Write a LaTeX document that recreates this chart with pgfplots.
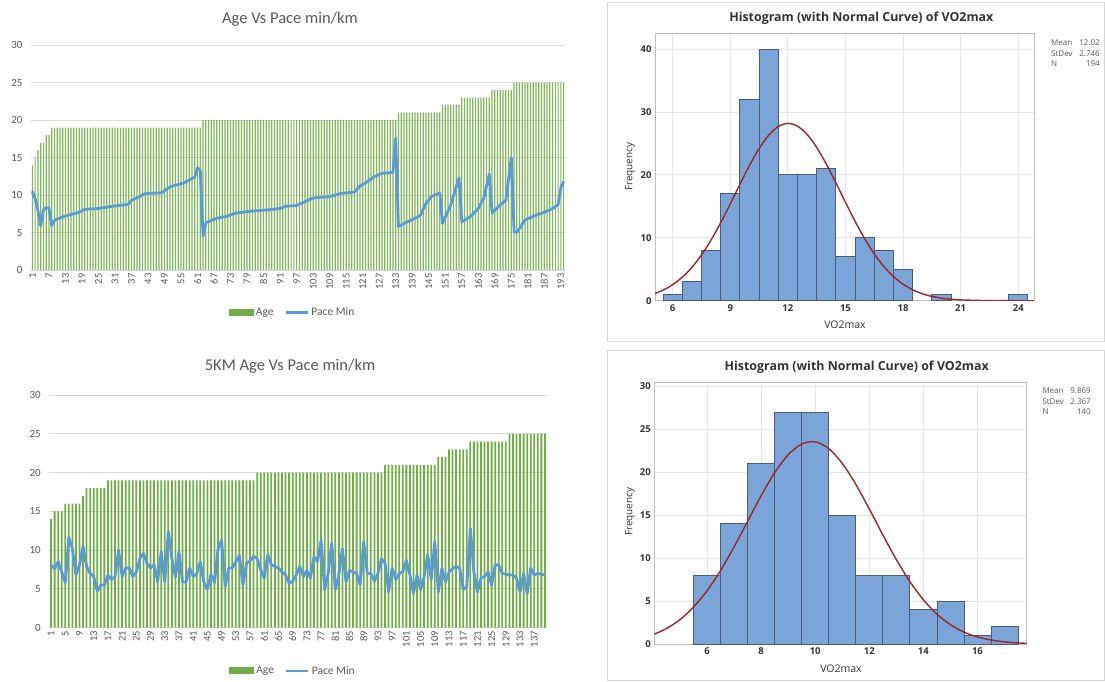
\documentclass[border=0pt]{standalone}
\usepackage{fontspec}
\setmainfont{Carlito}
\newfontfamily\mtfont{Open Sans}
\usepackage{pgfplots}
\pgfplotsset{compat=1.18}
\definecolor{exgreen}{HTML}{70AD47}
\definecolor{exblue}{HTML}{5B9BD5}
\definecolor{exgrid}{HTML}{D9D9D9}
\definecolor{extext}{HTML}{595959}
\definecolor{mtbar}{HTML}{7BA4D8}
\definecolor{mtedge}{HTML}{4C5D75}
\definecolor{mtcurve}{HTML}{9C2628}
\definecolor{mtgrid}{HTML}{E6E6E6}
\definecolor{mtframe}{HTML}{BFBFBF}
\definecolor{mttext}{HTML}{333333}
\definecolor{mtpanel}{HTML}{D6D6D6}
\pgfplotsset{
 excel/.style={
  scale only axis, xmin=0.5, ymin=0, ymax=30, ytick={0,5,...,30},
  axis line style={draw=none}, tick style={draw=none},
  ymajorgrids, grid style={exgrid, line width=1pt},
  /pgf/number format/assume math mode=true,
  yticklabel style={font=\fontsize{11}{12}\selectfont, text=extext, xshift=-5pt},
  xticklabel style={rotate=90, anchor=east, font=\fontsize{10.5}{11}\selectfont, text=extext},
  legend style={draw=none, fill=none, legend columns=2, font=\fontsize{11.5}{12}\selectfont, text=extext,
    /tikz/every even column/.append style={column sep=9pt}},
 },
 mini/.style={
  scale only axis, axis line style={mtframe, line width=1pt},
  grid=major, grid style={mtgrid, line width=0.8pt}, tick style={draw=none},
  /pgf/number format/assume math mode=true,
  ticklabel style={font=\mtfont\bfseries\fontsize{9.5}{10}\selectfont, text=mttext},
 },
}
\begin{document}
\begin{tikzpicture}
\path[use as bounding box] (0,0) rectangle (1105pt,-681pt);
% ---------- Top-left Excel chart ----------
\begin{axis}[excel, at={(31pt,-270pt)}, anchor=south west, width=534pt, height=225pt,
  xmax=194.5, xtick={1,7,...,193},
  legend style={at={(0.49,-0.19)}, anchor=center}]
\addplot[ybar, bar width=0.45, bar shift=0pt, fill=exgreen!90, draw=none,
  legend image code/.code={\fill[exgreen] (0pt,-3.5pt) rectangle (25pt,3.5pt);}]
coordinates {(1,14)(2,15)(3,16)(4,17)(5,17)(6,18)(7,18)
(8,19)(9,19)(10,19)(11,19)(12,19)(13,19)(14,19)(15,19)(16,19)(17,19)
(18,19)(19,19)(20,19)(21,19)(22,19)(23,19)(24,19)(25,19)(26,19)(27,19)
(28,19)(29,19)(30,19)(31,19)(32,19)(33,19)(34,19)(35,19)(36,19)(37,19)
(38,19)(39,19)(40,19)(41,19)(42,19)(43,19)(44,19)(45,19)(46,19)(47,19)
(48,19)(49,19)(50,19)(51,19)(52,19)(53,19)(54,19)(55,19)(56,19)(57,19)
(58,19)(59,19)(60,19)(61,19)(62,19)
(63,20)(64,20)(65,20)(66,20)(67,20)(68,20)(69,20)(70,20)(71,20)(72,20)
(73,20)(74,20)(75,20)(76,20)(77,20)(78,20)(79,20)(80,20)(81,20)(82,20)
(83,20)(84,20)(85,20)(86,20)(87,20)(88,20)(89,20)(90,20)(91,20)(92,20)
(93,20)(94,20)(95,20)(96,20)(97,20)(98,20)(99,20)(100,20)(101,20)(102,20)
(103,20)(104,20)(105,20)(106,20)(107,20)(108,20)(109,20)(110,20)(111,20)(112,20)
(113,20)(114,20)(115,20)(116,20)(117,20)(118,20)(119,20)(120,20)(121,20)(122,20)
(123,20)(124,20)(125,20)(126,20)(127,20)(128,20)(129,20)(130,20)(131,20)(132,20)(133,20)
(134,21)(135,21)(136,21)(137,21)(138,21)(139,21)(140,21)(141,21)(142,21)(143,21)
(144,21)(145,21)(146,21)(147,21)(148,21)(149,21)
(150,22)(151,22)(152,22)(153,22)(154,22)(155,22)(156,22)
(157,23)(158,23)(159,23)(160,23)(161,23)(162,23)(163,23)(164,23)(165,23)(166,23)(167,23)
(168,24)(169,24)(170,24)(171,24)(172,24)(173,24)(174,24)(175,24)
(176,25)(177,25)(178,25)(179,25)(180,25)(181,25)(182,25)(183,25)(184,25)(185,25)
(186,25)(187,25)(188,25)(189,25)(190,25)(191,25)(192,25)(193,25)(194,25)};
\addlegendentry{Age}
\addplot[exblue, line width=2.8pt, line join=round, no marks,
  legend image code/.code={\draw[exblue, line width=2.8pt] (0pt,0pt) -- (22pt,0pt);}]
coordinates {(1,10.5)(2,9.5)(3,8.0)(4,5.9)(5,8.0)(6,8.3)(7,8.3)(8,5.9)(9,6.6)(10,6.8)
(13,7.2)(18,7.7)(20,8.1)(25,8.2)(30,8.5)(35,8.7)(36,8.8)(37,9.3)(40,9.8)(42,10.2)
(48,10.3)(51,11.1)(56,11.6)(60,12.4)(61,13.6)(62,13.3)(63,4.5)(64,6.3)(66,6.6)(68,6.9)
(72,7.2)(74,7.5)(79,7.8)(86,8.0)(91,8.2)(93,8.5)(97,8.6)(100,9.1)(103,9.6)(109,9.8)
(113,10.2)(118,10.4)(120,11.2)(122,11.6)(125,12.4)(128,12.9)(132,13.0)(133,17.6)
(134,5.8)(136,6.2)(140,6.9)(142,7.3)(144,8.9)(146,9.8)(149,10.3)(150,6.2)(153,8.7)
(156,12.3)(157,6.4)(160,7.1)(163,8.2)(165,9.6)(167,12.8)(168,7.6)(171,8.7)(173,9.3)
(175,15.0)(176,5.1)(177,5.0)(180,6.7)(184,7.3)(187,7.7)(190,8.2)(192,8.7)(193,11.0)(194,11.8)};
\addlegendentry{Pace Min}
\end{axis}
\node[font=\fontsize{16.5}{18}\selectfont, text=extext] at (290pt,-19pt) {Age Vs Pace min/km};
% ---------- Bottom-left Excel chart ----------
\begin{axis}[excel, at={(49.3pt,-627.7pt)}, anchor=south west, width=497.4pt, height=232.7pt,
  xmax=140.5, xtick={1,5,...,137},
  legend style={at={(0.49,-0.186)}, anchor=center}]
\addplot[ybar, bar width=0.5, bar shift=0pt, fill=exgreen, draw=none,
  legend image code/.code={\fill[exgreen] (0pt,-3.5pt) rectangle (25pt,3.5pt);}]
coordinates {(1,14)(2,15)(3,15)(4,15)(5,16)(6,16)(7,16)(8,16)(9,16)(10,17)
(11,18)(12,18)(13,18)(14,18)(15,18)(16,18)
(17,19)(18,19)(19,19)(20,19)(21,19)(22,19)(23,19)(24,19)(25,19)(26,19)
(27,19)(28,19)(29,19)(30,19)(31,19)(32,19)(33,19)(34,19)(35,19)(36,19)
(37,19)(38,19)(39,19)(40,19)(41,19)(42,19)(43,19)(44,19)(45,19)(46,19)
(47,19)(48,19)(49,19)(50,19)(51,19)(52,19)(53,19)(54,19)(55,19)(56,19)(57,19)(58,19)
(59,20)(60,20)(61,20)(62,20)(63,20)(64,20)(65,20)(66,20)(67,20)(68,20)
(69,20)(70,20)(71,20)(72,20)(73,20)(74,20)(75,20)(76,20)(77,20)(78,20)
(79,20)(80,20)(81,20)(82,20)(83,20)(84,20)(85,20)(86,20)(87,20)(88,20)
(89,20)(90,20)(91,20)(92,20)(93,20)(94,20)
(95,21)(96,21)(97,21)(98,21)(99,21)(100,21)(101,21)(102,21)(103,21)(104,21)
(105,21)(106,21)(107,21)(108,21)(109,21)
(110,22)(111,22)(112,22)
(113,23)(114,23)(115,23)(116,23)(117,23)(118,23)
(119,24)(120,24)(121,24)(122,24)(123,24)(124,24)(125,24)(126,24)(127,24)(128,24)(129,24)
(130,25)(131,25)(132,25)(133,25)(134,25)(135,25)(136,25)(137,25)(138,25)(139,25)(140,25)};
\addlegendentry{Age}
\addplot[exblue, line width=2.8pt, line join=round, no marks,
  legend image code/.code={\draw[exblue, line width=2.8pt] (0pt,0pt) -- (22pt,0pt);}]
coordinates {(1,8.1)(2,7.6)(3,8.5)(4,7.2)(5,5.8)(6,11.7)(7,10.2)(8,6.8)(9,8.1)(10,10.5)
(11,7.9)(12,7.0)(13,6.6)(14,4.7)(15,5.5)(16,5.5)(17,6.8)(18,6.2)(19,6.6)(20,10.0)
(21,6.6)(22,7.7)(23,7.7)(24,6.6)(25,7.2)(26,8.9)(27,9.6)(28,8.3)(29,7.7)(30,8.1)
(31,5.9)(32,9.8)(33,5.9)(34,12.4)(35,8.9)(36,6.5)(37,9.8)(38,5.9)(39,5.9)(40,7.7)
(41,6.6)(42,7.0)(43,8.5)(44,5.9)(45,4.9)(46,6.9)(47,5.8)(48,10.2)(49,11.3)(50,5.3)
(51,7.7)(52,7.7)(53,8.5)(54,9.3)(55,5.5)(56,8.3)(57,8.6)(58,9.2)(59,8.9)(60,7.5)
(61,6.4)(62,9.4)(63,8.1)(64,7.9)(65,7.7)(66,7.2)(67,6.8)(68,5.7)(69,6.0)(70,6.8)
(71,7.9)(72,6.6)(73,7.4)(74,6.4)(75,9.2)(76,8.5)(77,11.3)(78,4.9)(79,7.0)(80,10.9)
(81,4.9)(82,6.8)(83,10.2)(84,5.9)(85,7.4)(86,7.2)(87,7.0)(88,5.5)(89,11.1)(90,7.0)
(91,7.0)(92,6.0)(93,7.0)(94,8.9)(95,8.3)(96,4.6)(97,7.7)(98,6.2)(99,7.0)(100,7.2)
(101,8.7)(102,6.8)(103,4.4)(104,6.8)(105,4.9)(106,6.6)(107,9.4)(108,6.2)(109,11.1)(110,4.6)
(111,7.7)(112,5.9)(113,7.2)(114,7.6)(115,7.9)(116,7.7)(117,4.9)(118,5.3)(119,12.8)(120,7.2)
(121,4.6)(122,6.4)(123,6.6)(124,7.2)(125,5.5)(126,8.1)(127,8.1)(128,7.0)(129,6.9)(130,6.8)
(131,6.8)(132,6.4)(133,4.6)(134,7.0)(135,4.4)(136,7.7)(137,6.8)(138,7.0)(139,6.9)(140,6.8)};
\addlegendentry{Pace Min}
\end{axis}
\node[font=\fontsize{16.5}{18}\selectfont, text=extext] at (290pt,-366pt) {5KM Age Vs Pace min/km};
% ---------- Minitab panels ----------
\draw[mtpanel, line width=1pt] (607pt,-2pt) rectangle (1104pt,-341pt);
\draw[mtpanel, line width=1pt] (607pt,-350pt) rectangle (1104pt,-680pt);
% Top-right histogram
\begin{axis}[mini, at={(655pt,-300.7pt)}, anchor=south west, width=379pt, height=267.4pt,
  xmin=5.08, xmax=24.82, ymin=0, ymax=42.5, xtick={6,9,...,24}, ytick={0,10,...,40}]
\addplot[ybar, bar width=1, bar shift=0pt, fill=mtbar, draw=mtedge, line width=0.8pt]
coordinates {(6,1)(7,3)(8,8)(9,17)(10,32)(11,40)(12,20)(13,20)(14,21)(15,7)(16,10)(17,8)(18,5)(20,1)(24,1)};
\addplot[mtcurve, line width=1.4pt, smooth, no marks]
coordinates {(5.08,1.16)(5.5,1.68)(6,2.55)(6.5,3.74)(7,5.30)(7.5,7.27)(8,9.65)(8.5,12.39)(9,15.39)
(9.5,18.49)(10,21.50)(10.5,24.18)(11,26.30)(11.5,27.68)(12,28.18)(12.5,27.75)(13,26.44)(13.5,24.37)
(14,21.73)(14.5,18.74)(15,15.64)(15.5,12.63)(16,9.86)(16.5,7.45)(17,5.44)(17.5,3.85)(18,2.63)
(18.5,1.74)(19,1.11)(19.5,0.69)(20,0.41)(20.5,0.24)(21,0.13)(22,0.04)(23,0.01)(24,0.00)(24.82,0.00)};
\end{axis}
\node[font=\mtfont\bfseries\fontsize{12.4}{14}\selectfont, text=mttext] at (861.3pt,-18.3pt) {Histogram (with Normal Curve) of VO2max};
\node[font=\mtfont\fontsize{10}{11}\selectfont, text=mttext, rotate=90] at (630pt,-166.7pt) {Frequency};
\node[font=\mtfont\fontsize{10.5}{11}\selectfont, text=mttext] at (845pt,-325pt) {VO2max};
\begin{scope}[every node/.style={font=\mtfont\fontsize{8}{9}\selectfont, text=extext, inner sep=0pt}]
\node[anchor=west] at (1051pt,-42.7pt) {Mean}; \node[anchor=east] at (1100pt,-42.7pt) {12.02};
\node[anchor=west] at (1051pt,-53.3pt) {StDev}; \node[anchor=east] at (1100pt,-53.3pt) {2.746};
\node[anchor=west] at (1051pt,-63.3pt) {N}; \node[anchor=east] at (1100pt,-63.3pt) {194};
\end{scope}
% Bottom-right histogram
\begin{axis}[mini, at={(654.3pt,-644pt)}, anchor=south west, width=372.4pt, height=261.7pt,
  xmin=4.05, xmax=17.82, ymin=0, ymax=30.5, xtick={6,8,...,16}, ytick={0,5,...,30}]
\addplot[ybar, bar width=1, bar shift=0pt, fill=mtbar, draw=mtedge, line width=0.8pt]
coordinates {(6,8)(7,14)(8,21)(9,27)(10,27)(11,15)(12,8)(13,8)(14,4)(15,5)(16,1)(17,2)};
\addplot[mtcurve, line width=1.4pt, smooth, no marks]
coordinates {(4.05,1.15)(4.5,1.80)(5,2.84)(5.5,4.30)(6,6.20)(6.5,8.57)(7,11.32)(7.5,14.30)(8,17.28)
(8.5,19.97)(9,22.06)(9.5,23.31)(10,23.56)(10.5,22.78)(11,21.05)(11.5,18.61)(12,15.74)(12.5,12.72)
(13,9.84)(13.5,7.28)(14,5.15)(14.5,3.48)(15,2.25)(15.5,1.39)(16,0.82)(16.5,0.47)(17,0.25)(17.5,0.13)(17.82,0.08)};
\end{axis}
\node[font=\mtfont\bfseries\fontsize{12.4}{14}\selectfont, text=mttext] at (856.7pt,-367.7pt) {Histogram (with Normal Curve) of VO2max};
\node[font=\mtfont\fontsize{10}{11}\selectfont, text=mttext, rotate=90] at (630pt,-511.7pt) {Frequency};
\node[font=\mtfont\fontsize{10.5}{11}\selectfont, text=mttext] at (841pt,-668.3pt) {VO2max};
\begin{scope}[every node/.style={font=\mtfont\fontsize{8}{9}\selectfont, text=extext, inner sep=0pt}]
\node[anchor=west] at (1042.3pt,-391pt) {Mean}; \node[anchor=east] at (1091pt,-391pt) {9.869};
\node[anchor=west] at (1042.3pt,-401.3pt) {StDev}; \node[anchor=east] at (1091pt,-401.3pt) {2.367};
\node[anchor=west] at (1042.3pt,-411.3pt) {N}; \node[anchor=east] at (1091pt,-411.3pt) {140};
\end{scope}
\end{tikzpicture}
\end{document}
